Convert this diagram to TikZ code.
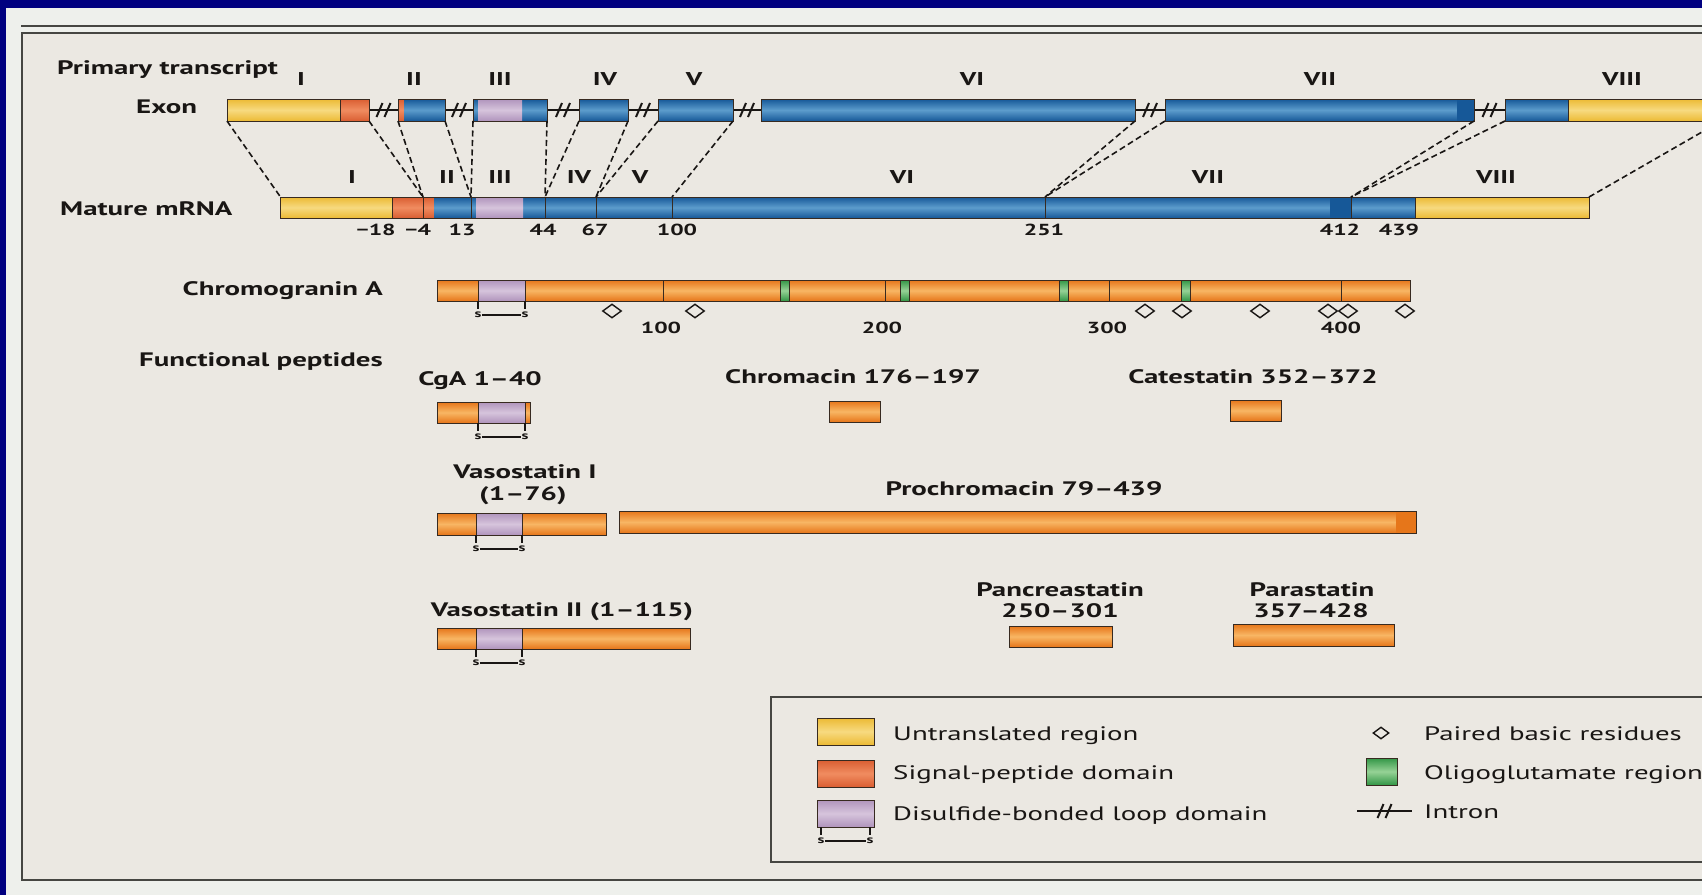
\documentclass[tikz,border=0pt]{standalone}
\usepackage{fontspec}
\setmainfont[FakeStretch=1.48]{PT Sans}
\usetikzlibrary{shapes.geometric}

\definecolor{navyc}{RGB}{0,0,128}
\definecolor{pagebg}{RGB}{238,240,236}
\definecolor{boxbg}{RGB}{235,232,226}
\definecolor{rulec}{RGB}{70,70,66}
\definecolor{inkc}{RGB}{25,22,20}
\definecolor{edgec}{RGB}{55,42,32}
\definecolor{utrd}{RGB}{236,186,52}
\definecolor{utrl}{RGB}{247,218,128}
\definecolor{sigd}{RGB}{218,94,50}
\definecolor{sigl}{RGB}{240,140,96}
\definecolor{loopd}{RGB}{176,148,188}
\definecolor{loopl}{RGB}{214,196,220}
\definecolor{codd}{RGB}{22,88,152}
\definecolor{codl}{RGB}{92,156,204}
\definecolor{cgad}{RGB}{230,118,26}
\definecolor{cgal}{RGB}{248,182,100}
\definecolor{glud}{RGB}{50,150,70}
\definecolor{glul}{RGB}{150,210,150}

\newcommand{\intronmark}[3]{% from x, to x, at y
  \draw[intronline] (#1,#3) -- (#2,#3);
  \pgfmathsetmacro{\imid}{(#1+#2)/2}
  \draw[intronline] (\imid-7,#3+7) -- (\imid-1,#3-7);
  \draw[intronline] (\imid+1,#3+7) -- (\imid+7,#3-7);
}
\newcommand{\ssbond}[4]{% name, left x, right x, bar bottom
  \draw[ssline] (#2,#4) -- ++(0,8);
  \draw[ssline] (#3,#4) -- ++(0,8);
  \node[sletter] (#1l) at (#2,#4+14) {s};
  \node[sletter] (#1r) at (#3,#4+14) {s};
  \draw[ssline] (#1l) -- (#1r);
}

\begin{document}
\begin{tikzpicture}[x=1pt, y=-1pt,
    lbl/.style={font=\bfseries\fontsize{19.5}{23}\selectfont, text=inkc, inner sep=0},
    rnum/.style={font=\bfseries\fontsize{18.5}{21}\selectfont, text=inkc, inner sep=0, anchor=base},
    posn/.style={font=\bfseries\fontsize{16}{19}\selectfont, text=inkc, inner sep=0, anchor=base},
    legtxt/.style={font=\fontsize{19.5}{23}\selectfont, text=inkc, inner sep=0, anchor=base west},
    sletter/.style={font=\bfseries\fontsize{11}{11}\selectfont, text=inkc, inner sep=0.5pt},
    ssline/.style={draw=inkc, line width=1.1},
    barline/.style={draw=edgec, line width=1},
    splice/.style={draw=inkc, line width=1.6, dash pattern=on 6pt off 3.5pt},
    intronline/.style={draw=inkc, line width=2},
    pbr/.style={shape=diamond, draw=inkc, line width=1.4, fill=boxbg, minimum width=19pt, minimum height=14pt, inner sep=0},
    utrfill/.style={top color=utrd, bottom color=utrd, middle color=utrl},
    sigfill/.style={top color=sigd, bottom color=sigd, middle color=sigl},
    loopfill/.style={top color=loopd, bottom color=loopd, middle color=loopl},
    codfill/.style={top color=codd, bottom color=codd, middle color=codl},
    cgafill/.style={top color=cgad, bottom color=cgad, middle color=cgal},
    glufill/.style={top color=glud, bottom color=glud, middle color=glul}]

  \useasboundingbox (0,0) rectangle (1702,895);

  % page and frame
  \fill[pagebg] (0,0) rectangle (1702,895);
  \fill[boxbg] (22,33) rectangle (1702,880);
  \draw[rulec, line width=1.6] (21,26) -- (1702,26);
  \draw[rulec, line width=1.3] (1702,33) -- (22,33) -- (22,880) -- (1702,880);

  % ---- primary transcript ----
  \def\eT{99}
  \def\eB{121}
  \def\eM{110}
  \node[lbl, anchor=base west] (ptlbl) at (57,74) {Primary transcript};
  \node[lbl, anchor=base west] (exlbl) at (136,113) {Exon};

  \intronmark{369}{398}{\eM}
  \intronmark{445}{473}{\eM}
  \intronmark{547}{579}{\eM}
  \intronmark{628}{658}{\eM}
  \intronmark{733}{761}{\eM}
  \intronmark{1135}{1165}{\eM}
  \intronmark{1474}{1505}{\eM}

  \shade[utrfill] (227,\eT) rectangle (340,\eB);
  \shade[sigfill] (340,\eT) rectangle (369,\eB);
  \draw[barline] (227,\eT) rectangle (369,\eB) (340,\eT) -- (340,\eB);

  \shade[sigfill] (398,\eT) rectangle (404,\eB);
  \shade[codfill] (404,\eT) rectangle (445,\eB);
  \draw[barline] (398,\eT) rectangle (445,\eB);

  \shade[codfill] (473,\eT) rectangle (547,\eB);
  \shade[loopfill] (478,\eT) rectangle (522,\eB);
  \draw[barline] (473,\eT) rectangle (547,\eB);

  \shade[codfill] (579,\eT) rectangle (628,\eB);
  \draw[barline] (579,\eT) rectangle (628,\eB);
  \shade[codfill] (658,\eT) rectangle (733,\eB);
  \draw[barline] (658,\eT) rectangle (733,\eB);
  \shade[codfill] (761,\eT) rectangle (1135,\eB);
  \draw[barline] (761,\eT) rectangle (1135,\eB);
  \shade[codfill] (1165,\eT) rectangle (1474,\eB);
  \fill[codd] (1457,\eT) rectangle (1474,\eB);
  \draw[barline] (1165,\eT) rectangle (1474,\eB);

  \shade[codfill] (1505,\eT) rectangle (1568,\eB);
  \shade[utrfill] (1568,\eT) rectangle (1702,\eB);
  \draw[barline] (1702,\eT) -- (1505,\eT) -- (1505,\eB) -- (1702,\eB) (1568,\eT) -- (1568,\eB);

  \foreach \x/\t [count=\i] in {301/I, 414/II, 500/III, 605/IV, 694/V, 972/VI, 1320/VII, 1622/VIII}
    \node[rnum] (exn\i) at (\x,85) {\t};

  % ---- mature mRNA ----
  \def\mT{197}
  \def\mB{218}
  \node[lbl, anchor=base west] (mlbl) at (60,215) {Mature mRNA};

  \shade[utrfill] (280.5,\mT) rectangle (392,\mB);
  \shade[sigfill] (392,\mT) rectangle (434,\mB);
  \shade[codfill] (434,\mT) rectangle (1415,\mB);
  \shade[loopfill] (476,\mT) rectangle (523,\mB);
  \fill[codd] (1330,\mT) rectangle (1351,\mB);
  \shade[utrfill] (1415,\mT) rectangle (1589,\mB);
  \draw[barline] (280.5,\mT) rectangle (1589,\mB);
  \foreach \x in {392,423,471,545,596,672,1045,1351,1415}
    \draw[barline] (\x,\mT) -- (\x,\mB);

  \foreach \x/\t [count=\i] in {352/I, 447/II, 500/III, 579/IV, 640/V, 902/VI, 1208/VII, 1496/VIII}
    \node[rnum] (mrn\i) at (\x,183) {\t};
  \foreach \x/\t [count=\i] in {376/−18, 418/−4, 462/13, 543/44, 595/67, 677/100, 1044/251, 1340/412, 1399/439}
    \node[posn] (mpos\i) at (\x,235) {\t};

  % splice lines
  \coordinate (e1s) at (227,\eB);  \coordinate (e1e) at (369,\eB);
  \coordinate (e2s) at (398,\eB);  \coordinate (e2e) at (445,\eB);
  \coordinate (e3s) at (473,\eB);  \coordinate (e3e) at (547,\eB);
  \coordinate (e4s) at (579,\eB);  \coordinate (e4e) at (628,\eB);
  \coordinate (e5s) at (658,\eB);  \coordinate (e5e) at (733,\eB);
  \coordinate (e6e) at (1135,\eB); \coordinate (e7s) at (1165,\eB);
  \coordinate (e7e) at (1474,\eB); \coordinate (e8s) at (1505,\eB);
  \coordinate (m0) at (280.5,\mT); \coordinate (m1) at (423,\mT);
  \coordinate (m2) at (471,\mT);   \coordinate (m3) at (545,\mT);
  \coordinate (m4) at (596,\mT);   \coordinate (m5) at (672,\mT);
  \coordinate (m6) at (1045,\mT);  \coordinate (m7) at (1351,\mT);
  \coordinate (m8) at (1589,\mT);  \coordinate (rim) at (1702,132);
  \foreach \a/\b in {e1s/m0, e1e/m1, e2s/m1, e2e/m2, e3s/m2, e3e/m3, e4s/m3,
                     e4e/m4, e5s/m4, e5e/m5, e6e/m6, e7s/m6, e7e/m7, e8s/m7, m8/rim}
    \draw[splice] (\a) -- (\b);

  % ---- chromogranin A ----
  \def\cT{280}
  \def\cB{301}
  \node[lbl, anchor=base east] (cgalbl) at (383,295) {Chromogranin A};
  \shade[cgafill] (437,\cT) rectangle (1410,\cB);
  \shade[loopfill] (478,\cT) rectangle (525,\cB);
  \foreach \x in {785,905,1064,1186} {
    \shade[glufill] (\x-4.5,\cT) rectangle (\x+4.5,\cB);
    \draw[barline] (\x-4.5,\cT) -- (\x-4.5,\cB) (\x+4.5,\cT) -- (\x+4.5,\cB);
  }
  \draw[barline] (437,\cT) rectangle (1410,\cB);
  \foreach \x in {478,525,663,885,1109,1341}
    \draw[barline] (\x,\cT) -- (\x,\cB);
  \ssbond{cgas}{478}{525}{\cB}
  \foreach \x [count=\i] in {612,695,1145,1182,1260,1328,1348,1405}
    \node[pbr] (pb\i) at (\x,311) {};
  \foreach \x/\t [count=\i] in {661/100, 882/200, 1107/300, 1341/400}
    \node[posn] (cpos\i) at (\x,333) {\t};

  % ---- functional peptides ----
  \node[lbl, anchor=base east] (fplbl) at (383,366) {Functional peptides};

  \node[lbl, anchor=base] (p1lbl) at (480,385) {CgA 1–40};
  \shade[cgafill] (437,402) rectangle (530,423);
  \shade[loopfill] (478,402) rectangle (525,423);
  \draw[barline] (437,402) rectangle (530,423) (478,402) -- (478,423) (525,402) -- (525,423);
  \ssbond{p1s}{478}{525}{423}

  \node[lbl, anchor=base] (p2lbl) at (853,383) {Chromacin 176–197};
  \shade[cgafill] (829,401) rectangle (880,422);
  \draw[barline] (829,401) rectangle (880,422);

  \node[lbl, anchor=base] (p3lbl) at (1253,383) {Catestatin 352–372};
  \shade[cgafill] (1230,400) rectangle (1281,421);
  \draw[barline] (1230,400) rectangle (1281,421);

  \node[lbl, anchor=base] (p4lbl) at (525,478) {Vasostatin I};
  \node[lbl, anchor=base] (p4rng) at (523,500) {(1–76)};
  \shade[cgafill] (437,513) rectangle (606,535);
  \shade[loopfill] (476,513) rectangle (522,535);
  \draw[barline] (437,513) rectangle (606,535) (476,513) -- (476,535) (522,513) -- (522,535);
  \ssbond{p4s}{476}{522}{535}

  \node[lbl, anchor=base] (p5lbl) at (1024,495) {Prochromacin 79–439};
  \shade[cgafill] (619,511) rectangle (1416,533);
  \fill[cgad] (1396,511) rectangle (1416,533);
  \draw[barline] (619,511) rectangle (1416,533);

  \node[lbl, anchor=base] (p6lbl) at (562,616) {Vasostatin II (1–115)};
  \shade[cgafill] (437,628) rectangle (690,649);
  \shade[loopfill] (476,628) rectangle (522,649);
  \draw[barline] (437,628) rectangle (690,649) (476,628) -- (476,649) (522,628) -- (522,649);
  \ssbond{p6s}{476}{522}{649}

  \node[lbl, anchor=base] (p7lbl) at (1060,596) {Pancreastatin};
  \node[lbl, anchor=base] (p7rng) at (1060,617) {250–301};
  \shade[cgafill] (1009,626) rectangle (1112,647);
  \draw[barline] (1009,626) rectangle (1112,647);

  \node[lbl, anchor=base] (p8lbl) at (1312,596) {Parastatin};
  \node[lbl, anchor=base] (p8rng) at (1311,617) {357–428};
  \shade[cgafill] (1233,624) rectangle (1394,646);
  \draw[barline] (1233,624) rectangle (1394,646);

  % ---- legend ----
  \draw[rulec, line width=1.2] (1702,697) -- (771,697) -- (771,862) -- (1702,862);
  \shade[utrfill] (817,718) rectangle (874,745);
  \draw[barline] (817,718) rectangle (874,745);
  \shade[sigfill] (817,760) rectangle (874,787);
  \draw[barline] (817,760) rectangle (874,787);
  \shade[loopfill] (817,800) rectangle (874,827);
  \draw[barline] (817,800) rectangle (874,827);
  \ssbond{legs}{821}{870}{827}
  \node[legtxt] (lg1) at (893,740) {Untranslated region};
  \node[legtxt] (lg2) at (893,779) {Signal-peptide domain};
  \node[legtxt] (lg3) at (893,820) {Disulfide-bonded loop domain};

  \node[pbr, minimum width=16pt, minimum height=12pt] (lgpb) at (1381,733) {};
  \shade[glufill] (1366,758) rectangle (1397,785);
  \draw[barline] (1366,758) rectangle (1397,785);
  \intronmark{1357}{1412}{811}
  \node[legtxt] (lg4) at (1424,740) {Paired basic residues};
  \node[legtxt] (lg5) at (1424,779) {Oligoglutamate region};
  \node[legtxt] (lg6) at (1424,818) {Intron};

  % navy slide border
  \fill[navyc] (0,0) rectangle (1702,8);
  \fill[navyc] (0,0) rectangle (6,895);
\end{tikzpicture}
\end{document}
